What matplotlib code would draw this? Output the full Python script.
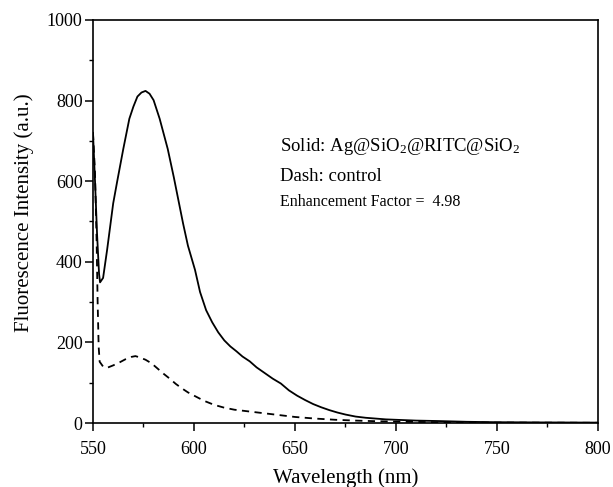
import matplotlib
matplotlib.use("Agg")
import matplotlib.pyplot as plt
import numpy as np

solid_wl = [550, 551, 552, 553, 553.5, 555, 557, 560, 562, 565, 568, 570, 572, 574, 576,
            578, 580, 583, 587, 590, 594.6, 597, 600.5, 603, 606, 609, 612, 615, 618, 621,
            624, 627.6, 631, 635, 639, 643, 647, 651, 655, 659, 663, 667, 671, 675, 680,
            685, 690, 695, 700, 710, 720, 735, 750, 770, 800]
solid_int = [720, 600, 470, 370, 349, 360, 430, 545, 600, 680, 755, 785, 810, 820, 824,
             817, 801, 755, 680, 610, 495, 440, 380, 325, 280, 250, 225, 205, 190, 178,
             165, 153, 138, 124, 110, 98, 81, 68, 57, 47, 39, 32, 26, 21, 16,
             13, 11, 9, 8, 6, 5, 3, 2, 1.5, 1]

dash_wl = [550, 551, 551.8, 552.3, 552.8, 553.3, 555, 557, 560, 563, 566, 569, 571, 573,
           576, 579, 582, 585, 588, 591, 594, 597, 600, 605, 610, 615, 620, 625, 630,
           640, 650, 660, 670, 680, 690, 700, 720, 750, 800]
dash_int = [720, 620, 450, 300, 190, 152, 140, 137, 143, 150, 158, 164, 166, 163,
            157, 148, 135, 122, 110, 97, 86, 76, 68, 55, 45, 38, 33, 30, 27,
            21, 15, 11, 8, 6, 4.5, 3.5, 2, 1, 0.5]

xticks = [550, 600, 650, 700, 750, 800]
yticks = [0, 200, 400, 600, 800, 1000]

plt.rcParams['font.family'] = ['Liberation Serif', 'DejaVu Serif']
plt.rcParams['mathtext.fontset'] = 'custom'
plt.rcParams['mathtext.rm'] = 'Liberation Serif'
plt.rcParams['mathtext.it'] = 'Liberation Serif:italic'
plt.rcParams['mathtext.bf'] = 'Liberation Serif:bold'

fig = plt.figure(figsize=(6.13, 4.87), dpi=100)
ax = fig.add_axes([0.1517, 0.1314, 0.9755 - 0.1517, 0.959 - 0.1314])

ax.plot(solid_wl, solid_int, color='black', lw=1.3, solid_joinstyle='round')
ax.plot(dash_wl, dash_int, color='black', lw=1.3, linestyle=(0, (4, 3)))

ax.set_xlim(550, 800)
ax.set_ylim(0, 1000)
ax.set_xticks(xticks)
ax.set_yticks(yticks)
ax.set_xticks(np.arange(575, 800, 50), minor=True)
ax.set_yticks(np.arange(100, 1000, 200), minor=True)
ax.tick_params(which='major', direction='out', length=5.5, width=1.1, labelsize=13,
               top=False, right=False, pad=2)
ax.tick_params(axis='x', which='major', pad=7.5)
ax.tick_params(which='minor', direction='out', length=3, width=1.0, top=False, right=False)
for s in ax.spines.values():
    s.set_linewidth(1.2)

ax.set_xlabel('Wavelength (nm)', fontsize=15, labelpad=7)
ax.set_ylabel('Fluorescence Intensity (a.u.)', fontsize=15)
ax.yaxis.set_label_coords(-0.117, 0.521)

ax.text(0.370, 0.675, r'Solid: Ag@SiO$_\mathrm{2}$@RITC@SiO$_\mathrm{2}$', transform=ax.transAxes,
        fontsize=13.5, va='baseline', ha='left')
ax.text(0.370, 0.600, 'Dash: control', transform=ax.transAxes,
        fontsize=13.5, va='baseline', ha='left')
ax.text(0.370, 0.538, 'Enhancement Factor =  4.98', transform=ax.transAxes,
        fontsize=11.5, va='baseline', ha='left')

fig.savefig('out.png', dpi=100)
